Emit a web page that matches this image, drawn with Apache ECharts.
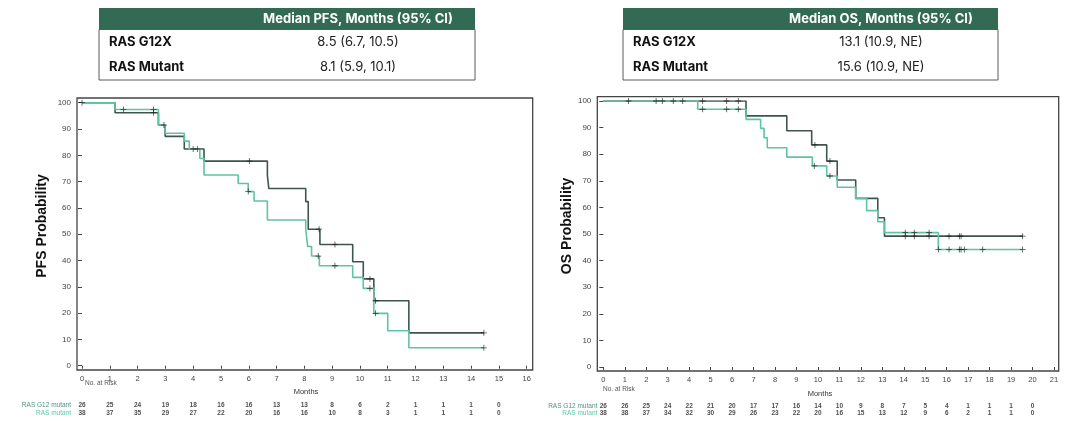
<!DOCTYPE html>
<html>
<head>
<meta charset="utf-8">
<script src="https://cdn.jsdelivr.net/npm/echarts@6/dist/echarts.min.js"></script>
<style>
  html, body { margin: 0; padding: 0; background: #ffffff; }
  #c { width: 1087px; height: 421px; }
</style>
</head>
<body>
<div id="c"></div>
<script>
// ---- Kaplan-Meier PFS: event times (months) and survival (%) after each step ----
const pfsG12Time = [0, 1.19, 2.75, 2.99, 3.68, 4.39, 6.67, 6.72, 8.05, 8.14, 8.56, 9.74, 10.12, 10.5, 11.76, 14.46];
const pfsG12Surv = [100, 96.2, 91.5, 87.2, 82.4, 77.8, 72.4, 67.4, 62.4, 51.9, 46.1, 39.5, 33.0, 24.7, 12.5, 12.5];
const pfsMutTime = [0, 1.19, 2.75, 2.99, 3.68, 3.86, 4.24, 4.39, 5.62, 5.98, 6.19, 6.67, 8.05, 8.12, 8.26, 8.54, 9.74, 10.12, 10.5, 11.0, 11.76, 14.46];
const pfsMutSurv = [100, 97.4, 91.5, 88.4, 85.4, 82.3, 78.8, 72.5, 69.3, 66.2, 62.6, 55.4, 51.9, 45.3, 41.7, 38.0, 33.6, 29.4, 19.9, 13.3, 6.8, 6.8];

// PFS censored observations
const pfsG12CensTime = [0, 2.57, 2.95, 4.0, 4.15, 6.02, 8.53, 9.1, 10.36, 10.56, 14.46];
const pfsG12CensSurv = [100, 96.2, 91.5, 82.4, 82.4, 77.8, 51.9, 46.1, 33.0, 24.7, 12.5];
const pfsMutCensTime = [1.49, 2.57, 5.98, 8.5, 9.1, 10.36, 10.56, 14.46];
const pfsMutCensSurv = [97.4, 97.4, 66.2, 41.7, 38.0, 29.4, 19.9, 6.8];

// ---- Kaplan-Meier OS ----
const osG12Time = [0, 6.65, 8.55, 9.71, 10.41, 10.9, 11.76, 12.79, 13.1, 19.54];
const osG12Surv = [100, 94.4, 88.8, 83.5, 77.4, 70.3, 63.4, 56.1, 49.2, 49.2];
const osMutTime = [0, 4.4, 6.65, 7.33, 7.49, 7.64, 8.55, 9.74, 10.41, 10.9, 11.76, 12.27, 12.79, 13.1, 15.61, 19.54];
const osMutSurv = [100, 96.9, 93.1, 89.7, 86.2, 82.4, 78.9, 75.6, 71.8, 67.6, 63.4, 58.8, 54.6, 50.5, 44.2, 44.2];

// OS censored observations
const osG12CensTime = [1.17, 2.46, 2.75, 3.26, 3.7, 4.63, 5.75, 6.29, 9.86, 10.56, 14.07, 14.49, 15.18, 16.11, 16.59, 16.67, 19.54];
const osG12CensSurv = [100, 100, 100, 100, 100, 100, 100, 100, 83.5, 77.4, 49.2, 49.2, 49.2, 49.2, 49.2, 49.2, 49.2];
const osMutCensTime = [4.63, 5.75, 6.29, 9.83, 10.56, 14.07, 14.49, 15.18, 15.61, 16.11, 16.59, 16.67, 16.82, 17.68, 19.54];
const osMutCensSurv = [96.9, 96.9, 96.9, 75.6, 71.8, 50.5, 50.5, 50.5, 44.2, 44.2, 44.2, 44.2, 44.2, 44.2, 44.2];

// ---- Numbers at risk (one value per month, starting at 0) ----
const pfsRiskG12 = [26, 25, 24, 19, 18, 16, 16, 13, 13, 8, 6, 2, 1, 1, 1, 0];
const pfsRiskMut = [38, 37, 35, 29, 27, 22, 20, 16, 16, 10, 8, 3, 1, 1, 1, 0];
const osRiskG12 = [26, 26, 25, 24, 22, 21, 20, 17, 17, 16, 14, 10, 9, 8, 7, 5, 4, 1, 1, 1, 0];
const osRiskMut = [38, 38, 37, 34, 32, 30, 29, 26, 23, 22, 20, 16, 15, 13, 12, 9, 6, 2, 1, 1, 0];
const riskRows = ['RAS mutant', 'RAS G12 mutant'];

// ---- Median summary tables ----
const tableGroups = ['RAS G12X', 'RAS Mutant'];
const pfsHeader = 'Median PFS, Months (95% CI)';
const pfsMedians = ['8.5 (6.7, 10.5)', '8.1 (5.9, 10.1)'];
const osHeader = 'Median OS, Months (95% CI)';
const osMedians = ['13.1 (10.9, NE)', '15.6 (10.9, NE)'];

const DARK = '#3d564d';
const TEAL = '#5ec4a5';
const TXT = "'Liberation Sans', Arial, sans-serif";
const TBL = "Inter, 'Liberation Sans', sans-serif";
const PLUS = 'path://M2.6,0h0.8v2.6h2.6v0.8h-2.6v2.6h-0.8v-2.6h-2.6v-0.8h2.6z';

const zip = (a, b) => a.map((v, i) => [v, b[i]]);

function curve(name, t, s, color, gi, z) {
  return {
    name, type: 'line', step: 'end', xAxisIndex: gi, yAxisIndex: gi,
    data: zip(t, s), showSymbol: false, symbol: 'none', silent: true, z,
    lineStyle: { color, width: 1.6 }
  };
}
function censors(t, s, gi) {
  return {
    type: 'scatter', xAxisIndex: gi, yAxisIndex: gi, data: zip(t, s),
    symbol: PLUS, symbolSize: 6, silent: true, z: 5,
    itemStyle: { color: '#1a1a1a' }
  };
}
function riskSeries(vals, row, gi) {
  return {
    type: 'scatter', xAxisIndex: gi, yAxisIndex: gi, silent: true,
    data: vals.map((n, i) => [i, row, n]),
    symbolSize: 1, itemStyle: { color: 'rgba(0,0,0,0)' },
    label: {
      show: true, position: 'inside', formatter: p => String(p.value[2]),
      fontSize: 6.5, fontWeight: 'bold', color: '#222', fontFamily: TXT
    }
  };
}

function valueX(max, offset, show) {
  return {
    type: 'value', min: 0, max, interval: 1, show,
    offset,
    axisLine: { show: false }, splitLine: { show: false },
    axisTick: { show: true, length: 3, lineStyle: { color: '#444', width: 1 } },
    axisLabel: { fontSize: 7.5, color: '#444', margin: 5, fontFamily: TXT }
  };
}
function valueY(offset) {
  return {
    type: 'value', min: 0, max: 100, interval: 10, offset,
    axisLine: { show: false }, splitLine: { show: false },
    axisTick: { show: true, length: 4, lineStyle: { color: '#444', width: 1 } },
    axisLabel: { fontSize: 8, color: '#444', margin: 6, fontFamily: TXT }
  };
}
function riskY(margin) {
  return {
    type: 'category', data: riskRows,
    axisLine: { show: false }, axisTick: { show: false }, splitLine: { show: false },
    axisLabel: {
      interval: 0, hideOverlap: false,
      fontSize: 6.5, margin, fontFamily: TXT,
      color: v => (v === 'RAS G12 mutant' ? '#4f9383' : '#62c7a9')
    }
  };
}

function table(x, w, colCx, header, values) {
  const top = 8, headH = 21.5, rowH = 25.25;
  const els = [
    { type: 'rect', shape: { x, y: top, width: w, height: headH }, style: { fill: '#336a54' } },
    { type: 'rect', shape: { x, y: top + headH, width: w, height: rowH * 2 },
      style: { fill: 'none', stroke: '#5a5a5a', lineWidth: 1 } },
    { type: 'text', x: colCx, y: top + headH / 2 + 0.5,
      style: { text: header, fill: '#ffffff', font: 'bold 13px ' + TBL, textAlign: 'center', textVerticalAlign: 'middle' } }
  ];
  tableGroups.forEach((g, i) => {
    const cy = top + headH + rowH * (i + 0.5);
    els.push({ type: 'text', x: x + 10, y: cy,
      style: { text: g, fill: '#111', font: 'bold 13px ' + TBL, textAlign: 'left', textVerticalAlign: 'middle' } });
    els.push({ type: 'text', x: colCx, y: cy,
      style: { text: values[i], fill: '#222', font: '13px ' + TBL, textAlign: 'center', textVerticalAlign: 'middle' } });
  });
  return els;
}

function smallText(text, x, y, size, color, align) {
  return { type: 'text', x, y,
    style: { text, fill: color, font: size + 'px ' + TXT, textAlign: align, textVerticalAlign: 'middle' } };
}

const graphics = [
  // plot frames
  { type: 'rect', shape: { x: 77, y: 98, width: 455.7, height: 272 }, style: { fill: 'none', stroke: '#444', lineWidth: 1.3 }, z: 10 },
  { type: 'rect', shape: { x: 597.3, y: 96.7, width: 461.4, height: 274.3 }, style: { fill: 'none', stroke: '#444', lineWidth: 1.3 }, z: 10 },
  // axis titles
  { type: 'text', x: 42, y: 226, rotation: Math.PI / 2,
    style: { text: 'PFS Probability', fill: '#111', font: 'bold 14px ' + TXT, textAlign: 'center', textVerticalAlign: 'middle' } },
  { type: 'text', x: 567, y: 226, rotation: Math.PI / 2,
    style: { text: 'OS Probability', fill: '#111', font: 'bold 14px ' + TXT, textAlign: 'center', textVerticalAlign: 'middle' } },
  smallText('Months', 306, 392, 7.5, '#333', 'center'),
  smallText('Months', 820, 394, 7.5, '#333', 'center'),
  smallText('No. at Risk', 85, 383, 6.5, '#555', 'left'),
  smallText('No. at Risk', 603, 389, 6.5, '#555', 'left')
].concat(
  table(99, 376, 358, pfsHeader, pfsMedians),
  table(623, 375, 881, osHeader, osMedians)
);

const option = {
  animation: false,
  backgroundColor: '#ffffff',
  grid: [
    { left: 82, top: 102.7, width: 444.7, height: 263 },
    { left: 603.3, top: 101, width: 450.7, height: 266 },
    { left: 82, top: 401, width: 444.7, height: 16 },
    { left: 603.3, top: 403, width: 450.7, height: 14 }
  ],
  xAxis: [
    Object.assign(valueX(16, 4.3, true), { gridIndex: 0 }),
    Object.assign(valueX(21, 4, true), { gridIndex: 1 }),
    Object.assign(valueX(16, 0, false), { gridIndex: 2 }),
    Object.assign(valueX(21, 0, false), { gridIndex: 3 })
  ],
  yAxis: [
    Object.assign(valueY(5), { gridIndex: 0 }),
    Object.assign(valueY(6), { gridIndex: 1 }),
    Object.assign(riskY(11), { gridIndex: 2 }),
    Object.assign(riskY(6), { gridIndex: 3 })
  ],
  series: [
    curve('RAS G12 mutant', pfsG12Time, pfsG12Surv, DARK, 0, 2),
    curve('RAS mutant', pfsMutTime, pfsMutSurv, TEAL, 0, 3),
    censors(pfsG12CensTime, pfsG12CensSurv, 0),
    censors(pfsMutCensTime, pfsMutCensSurv, 0),
    curve('RAS G12 mutant', osG12Time, osG12Surv, DARK, 1, 2),
    curve('RAS mutant', osMutTime, osMutSurv, TEAL, 1, 3),
    censors(osG12CensTime, osG12CensSurv, 1),
    censors(osMutCensTime, osMutCensSurv, 1),
    riskSeries(pfsRiskG12, 'RAS G12 mutant', 2),
    riskSeries(pfsRiskMut, 'RAS mutant', 2),
    riskSeries(osRiskG12, 'RAS G12 mutant', 3),
    riskSeries(osRiskMut, 'RAS mutant', 3)
  ],
  graphic: graphics
};

const chart = echarts.init(document.getElementById('c'));
chart.setOption(option);
</script>
</body>
</html>
